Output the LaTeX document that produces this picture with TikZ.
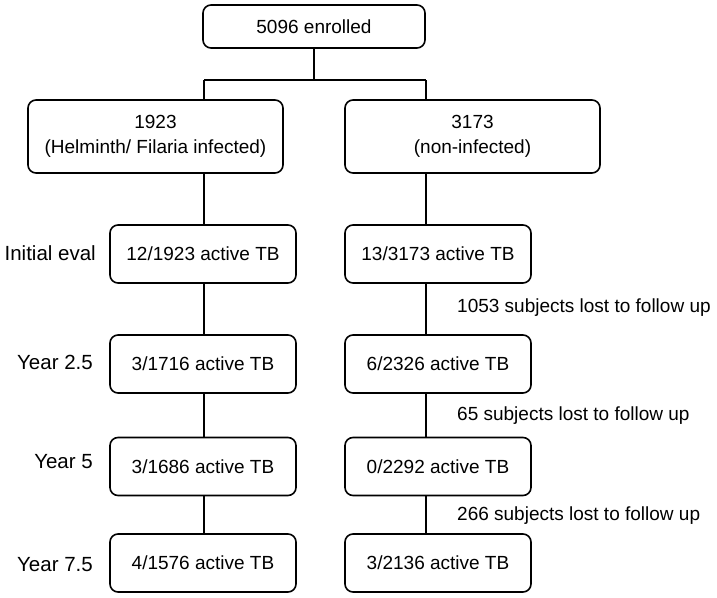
\documentclass[tikz,border=0pt]{standalone}
\usepackage{fontspec}
\setmainfont{Liberation Sans}
\begin{document}
\begin{tikzpicture}[x=1pt,y=-1pt,
  txt/.style={font=\fontsize{19}{24}\selectfont},
  box/.style={txt, draw, line width=1.6pt, rounded corners=8pt, inner sep=0pt, align=center},
  big/.style={box, minimum width=255pt, minimum height=73pt},
  row/.style={box, minimum width=186pt, minimum height=58pt},
  lbl/.style={font=\fontsize{20.5}{24}\selectfont, anchor=east, inner sep=0pt},
  note/.style={txt, anchor=west, inner sep=0pt},
  conn/.style={line width=1.3pt}]
\useasboundingbox (0,0) rectangle (717,597);
% top
\node[box, minimum width=222pt, minimum height=43pt] (top) at (314,26.5) {5096 enrolled};
% groups
\node[big] (L0) at (155.5,136.5) {\raisebox{6pt}{\begin{tabular}{@{}c@{}}1923\\[1pt](Helminth/ Filaria infected)\end{tabular}}};
\node[big] (R0) at (472.5,136.5) {\raisebox{6pt}{\begin{tabular}{@{}c@{}}3173\\[1pt](non-infected)\end{tabular}}};
% rows
\node[row] (L1) at (203,254) {12/1923 active TB};
\node[row] (R1) at (438,254) {13/3173 active TB};
\node[row] (L2) at (203,364) {3/1716 active TB};
\node[row] (R2) at (438,364) {6/2326 active TB};
\node[row] (L3) at (203,466.5) {3/1686 active TB};
\node[row] (R3) at (438,466.5) {0/2292 active TB};
\node[row] (L4) at (203,563) {4/1576 active TB};
\node[row] (R4) at (438,563) {3/2136 active TB};
% row labels
\node[lbl] (t1) at (96,253) {Initial eval};
\node[lbl] (t2) at (93,362) {Year 2.5};
\node[lbl] (t3) at (93,462) {Year 5};
\node[lbl] (t4) at (93,565) {Year 7.5};
% notes
\node[note] (n1) at (457,308) {1053 subjects lost to follow up};
\node[note] (n2) at (457,416) {65 subjects lost to follow up};
\node[note] (n3) at (457,516) {266 subjects lost to follow up};
% connector guides
\coordinate (lx) at (204,0);
\coordinate (rx) at (426,0);
\coordinate (split) at (314,80);
% connectors
\draw[conn] (top.south) -- (split);
\draw[conn] (split -| lx) -- (split -| rx);
\draw[conn] (split -| lx) -- (L0.north -| lx);
\draw[conn] (split -| rx) -- (R0.north -| rx);
\draw[conn] (L0.south -| lx) -- (L1.north -| lx);
\draw[conn] (R0.south -| rx) -- (R1.north -| rx);
\draw[conn] (L1.south -| lx) -- (L2.north -| lx);
\draw[conn] (R1.south -| rx) -- (R2.north -| rx);
\draw[conn] (L2.south -| lx) -- (L3.north -| lx);
\draw[conn] (R2.south -| rx) -- (R3.north -| rx);
\draw[conn] (L3.south -| lx) -- (L4.north -| lx);
\draw[conn] (R3.south -| rx) -- (R4.north -| rx);
\end{tikzpicture}
\end{document}
